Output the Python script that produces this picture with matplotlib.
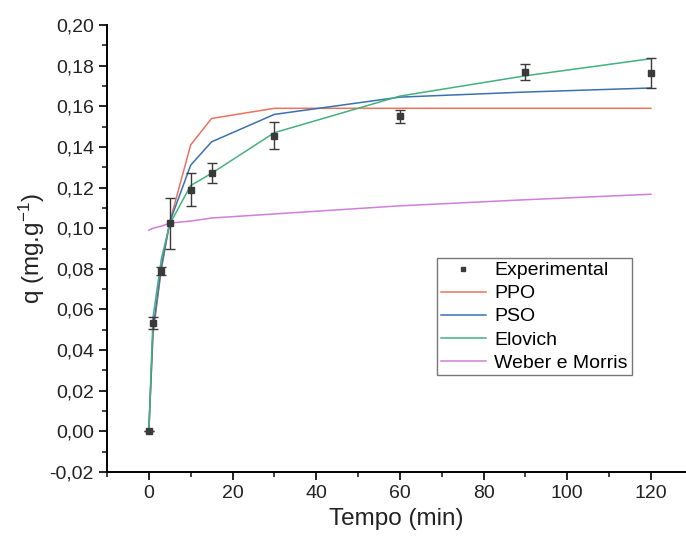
import numpy as np
import matplotlib.pyplot as plt
from matplotlib.lines import Line2D
from matplotlib.ticker import MultipleLocator, FuncFormatter

plt.rcParams['font.family'] = ['Liberation Sans', 'DejaVu Sans']
plt.rcParams['mathtext.default'] = 'regular'

tempo = [0, 1, 3, 5, 10, 15, 30, 60, 90, 120]
q_exp = [0.000, 0.0534, 0.079, 0.1025, 0.119, 0.127, 0.1455, 0.155, 0.177, 0.1765]
q_err = [0.000, 0.003, 0.002, 0.0126, 0.008, 0.005, 0.0067, 0.003, 0.004, 0.0074]

q_ppo = [0.000, 0.048, 0.080, 0.103, 0.141, 0.154, 0.159, 0.159, 0.159, 0.159]
q_pso = [0.000, 0.050, 0.081, 0.103, 0.131, 0.1425, 0.156, 0.1645, 0.167, 0.169]
q_elovich = [0.000, 0.056, 0.085, 0.102, 0.121, 0.127, 0.147, 0.165, 0.175, 0.1834]
q_weber = [0.099, 0.100, 0.101, 0.1025, 0.1035, 0.105, 0.107, 0.111, 0.114, 0.1167]

fig = plt.figure(figsize=(6.86, 5.38), dpi=100)
ax = fig.add_axes([107 / 686, 66 / 538, 1 - 107 / 686, 447 / 538])

l_ppo, = ax.plot(tempo, q_ppo, color='#e8735f', lw=1.1, zorder=2)
l_pso, = ax.plot(tempo, q_pso, color='#3a72ad', lw=1.1, zorder=2)
l_elo, = ax.plot(tempo, q_elovich, color='#45b07e', lw=1.1, zorder=2)
l_web, = ax.plot(tempo, q_weber, color='#cf7fd8', lw=1.1, zorder=2)
ax.errorbar(tempo, q_exp, yerr=q_err, fmt='s', color='#3a3a3a', ms=5,
            ecolor='#3a3a3a', elinewidth=1, capsize=3.5, capthick=1, zorder=3)

ax.set_xlim(-10, 128.4)
ax.set_ylim(-0.02, 0.20)
ax.xaxis.set_major_locator(MultipleLocator(20))
ax.xaxis.set_minor_locator(MultipleLocator(10))
ax.yaxis.set_major_locator(MultipleLocator(0.02))
ax.yaxis.set_minor_locator(MultipleLocator(0.01))
ax.yaxis.set_major_formatter(FuncFormatter(lambda v, p: f"{v:.2f}".replace('.', ',').replace('-0,00', '0,00')))

for s in ['top', 'right']:
    ax.spines[s].set_visible(False)
for s in ['left', 'bottom']:
    ax.spines[s].set_linewidth(1.4)
ax.tick_params(which='major', direction='out', length=6, width=1.4, labelsize=14, colors='#222222')
ax.tick_params(which='minor', direction='out', length=3.5, width=1.2, colors='#222222')

ax.set_xlabel('Tempo (min)', fontsize=17.5, color='#222222', labelpad=4)
ax.set_ylabel('q (mg.g$^{-1}$)', fontsize=17.5, color='#222222', labelpad=2)

exp_handle = Line2D([], [], ls='none', marker='s', ms=3.5, color='#3a3a3a')
leg = ax.legend([exp_handle, l_ppo, l_pso, l_elo, l_web],
                ['Experimental', 'PPO', 'PSO', 'Elovich', 'Weber e Morris'],
                loc='upper left', bbox_to_anchor=(0.570, 0.479), fontsize=14,
                frameon=True, fancybox=False, edgecolor='#555555',
                borderpad=0.2, labelspacing=0.28, handlelength=2.3,
                handletextpad=0.45, borderaxespad=0)
leg.get_frame().set_linewidth(1.0)

fig.savefig('out.png', dpi=100)
